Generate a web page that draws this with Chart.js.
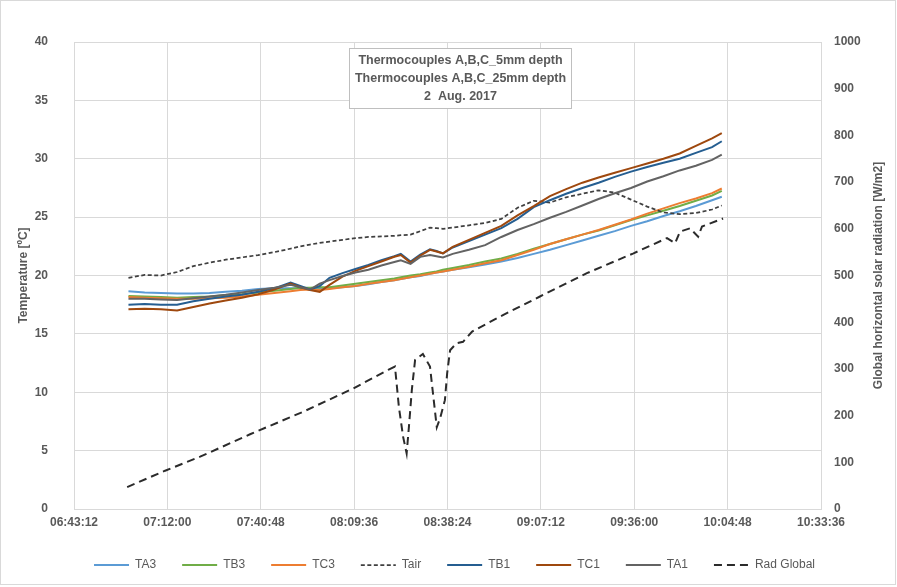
<!DOCTYPE html>
<html>
<head>
<meta charset="utf-8">
<script src="https://cdn.jsdelivr.net/npm/chart.js@4/dist/chart.umd.min.js"></script>
<style>
html,body{margin:0;padding:0;background:#fff;}
canvas{display:block;}
</style>
</head>
<body>
<canvas id="c" width="897" height="587"></canvas>
<script>
// ---- data ----
const xTickLabels = ["06:43:12","07:12:00","07:40:48","08:09:36","08:38:24","09:07:12","09:36:00","10:04:48","10:33:36"];
const titleLines = ["Thermocouples A,B,C_5mm depth","Thermocouples A,B,C_25mm depth","2  Aug. 2017"];
const leftTitle = "Temperature [ºC]";
const rightTitle = "Global horizontal solar radiation [W/m2]";

// minutes after midnight
const tempTimes = [420,425,430,435,440,445,450,455,460,465,470,473,476,479,482,486,490,494,498,502,504,507,510,513,515,517,520,525,530,535,540,545,550,555,560,565,570,575,580,585,590,595,600,603];
const TA3 = [18.65,18.55,18.5,18.45,18.45,18.5,18.6,18.7,18.85,18.9,18.9,18.9,18.85,18.85,18.9,19.0,19.1,19.25,19.45,19.6,19.7,19.85,19.95,20.15,20.25,20.35,20.5,20.7,20.95,21.2,21.5,21.85,22.2,22.6,23.0,23.4,23.8,24.25,24.65,25.1,25.5,25.95,26.45,26.75];
const TB3 = [18.25,18.2,18.15,18.1,18.15,18.2,18.3,18.4,18.55,18.7,18.85,18.95,18.95,19.0,19.0,19.15,19.3,19.45,19.6,19.75,19.85,20.0,20.1,20.25,20.35,20.5,20.65,20.9,21.2,21.45,21.85,22.3,22.7,23.1,23.5,23.85,24.3,24.75,25.15,25.55,25.95,26.4,26.85,27.25];
const TC3 = [18.15,18.1,18.05,18.0,18.0,18.05,18.1,18.2,18.35,18.5,18.65,18.75,18.8,18.75,18.85,19.0,19.1,19.3,19.45,19.6,19.7,19.85,20.0,20.15,20.25,20.35,20.5,20.75,21.05,21.3,21.75,22.2,22.7,23.1,23.5,23.9,24.35,24.8,25.3,25.75,26.2,26.6,27.05,27.45];
const Tair = [19.8,20.05,20.0,20.3,20.8,21.1,21.35,21.55,21.75,22.0,22.3,22.5,22.65,22.8,22.9,23.05,23.2,23.3,23.35,23.4,23.45,23.5,23.8,24.1,24.05,24.0,24.1,24.3,24.5,24.85,25.8,26.4,26.25,26.7,27.0,27.3,27.1,26.5,25.9,25.4,25.25,25.35,25.65,26.0];
const TB1 = [17.5,17.55,17.5,17.5,17.8,18.0,18.2,18.35,18.6,18.9,19.4,19.1,18.8,19.1,19.8,20.2,20.55,20.9,21.3,21.65,21.85,21.2,21.8,22.25,22.1,21.9,22.4,22.95,23.5,24.05,24.85,25.85,26.45,27.0,27.5,27.95,28.45,28.9,29.3,29.65,30.0,30.5,31.0,31.5];
const TC1 = [17.1,17.15,17.1,17.0,17.3,17.6,17.85,18.1,18.4,18.8,19.3,19.0,18.75,18.6,19.2,19.9,20.4,20.8,21.2,21.6,21.75,21.1,21.7,22.2,22.05,21.9,22.45,23.05,23.65,24.25,25.15,25.95,26.8,27.4,27.95,28.4,28.8,29.2,29.6,30.0,30.45,31.1,31.75,32.2];
const TA1 = [18.0,18.0,17.95,17.9,18.05,18.2,18.35,18.55,18.75,18.95,19.2,19.0,18.8,19.3,19.6,19.95,20.25,20.5,20.85,21.15,21.3,21.0,21.6,21.75,21.65,21.55,21.85,22.2,22.6,23.3,23.9,24.4,24.95,25.45,26.0,26.55,27.05,27.5,28.05,28.5,29.0,29.4,29.9,30.35];

const radTimes = [419.6,431.3,442.1,457.5,473.8,489.3,500.1,502.2,503.4,504.7,505.8,506.5,507.4,508.4,510.8,513.0,513.8,515.1,516.1,517.6,518.3,519.2,521.2,523.2,526.0,534.6,546.9,561.4,575.6,586.1,588.6,590.1,593.2,595.7,596.9,603.4];
const radGlobal = [47,82,112,160,208,258,298,305,219,155,119,176,255,319,332,305,255,175,194,233,291,340,355,358,380,412,455,505,547,580,569,594,601,583,605,622];

// ---- helpers ----
const toMin = s => { const p = s.split(':').map(Number); return p[0]*60 + p[1] + (p[2]||0)/60; };
const fmt = v => { const t = Math.round(v*60); const h = Math.floor(t/3600), m = Math.floor((t%3600)/60), s = t%60; return [h,m,s].map(n=>String(n).padStart(2,'0')).join(':'); };
const pts = (xs, ys) => xs.map((x,i)=>({x, y: ys[i]}));
const GRID = '#d9d9d9', TXT = '#595959';
const FONT = "'Liberation Sans', Arial, sans-serif";
const tickFont = {family: FONT, size: 12, weight: 'bold'};

const mk = (label, data, color, extra) => Object.assign({
  label, data: pts(tempTimes, data), borderColor: color, backgroundColor: color,
  borderWidth: 2, pointRadius: 0, tension: 0, fill: false, yAxisID: 'y'
}, extra || {});

const datasets = [
  mk('TA3', TA3, '#5B9BD5'),
  mk('TB3', TB3, '#70AD47'),
  mk('TC3', TC3, '#ED7D31'),
  mk('Tair', Tair, '#404040', {borderWidth: 1.75, borderDash: [4, 2.5]}),
  mk('TB1', TB1, '#255E91'),
  mk('TC1', TC1, '#9E480E'),
  mk('TA1', TA1, '#636363'),
  {label: 'Rad Global', data: pts(radTimes, radGlobal), borderColor: '#2b2b2b', backgroundColor: '#2b2b2b',
   borderWidth: 2, borderDash: [8, 5], pointRadius: 0, tension: 0, fill: false, yAxisID: 'y1'}
].map((d,i)=>Object.assign(d, {order: -i}));

const decor = {
  id: 'decor',
  beforeDraw(c) {
    const ctx = c.ctx; ctx.save(); ctx.fillStyle = '#fff'; ctx.fillRect(0,0,c.width,c.height); ctx.restore();
  },
  afterDatasetsDraw(c) {
    const ctx = c.ctx, a = c.chartArea;
    ctx.save();
    const bw = 222, bh = 60;
    const bx = Math.round(a.left + (460 - 74) / 747 * (a.right - a.left) - bw/2), by = a.top + 6;
    ctx.fillStyle = '#fff'; ctx.fillRect(bx, by, bw, bh);
    ctx.strokeStyle = '#bfbfbf'; ctx.lineWidth = 1; ctx.strokeRect(bx + 0.5, by + 0.5, bw, bh);
    ctx.fillStyle = TXT; ctx.font = 'bold 12.5px ' + FONT; ctx.textAlign = 'center'; ctx.textBaseline = 'middle';
    titleLines.forEach((t,i) => ctx.fillText(t, bx + bw/2 + 0.5, by + 13 + i*18));
    ctx.translate(879, (a.top + a.bottom)/2); ctx.rotate(-Math.PI/2);
    ctx.font = 'bold 12px ' + FONT; ctx.fillText(rightTitle, 0, 0);
    ctx.restore();
  },
  afterDraw(c) {
    const ctx = c.ctx; ctx.save(); ctx.strokeStyle = '#d9d9d9'; ctx.lineWidth = 1;
    ctx.strokeRect(0.5, 0.5, c.width - 2, c.height - 3); ctx.restore();
  }
};

new Chart(document.getElementById('c'), {
  type: 'line',
  data: {datasets},
  plugins: [decor],
  options: {
    responsive: false, animation: false, devicePixelRatio: 1,
    layout: {padding: {left: 12, right: 0, top: 42, bottom: 6}},
    plugins: {
      legend: {position: 'bottom', labels: {usePointStyle: true, pointStyle: 'line', pointStyleWidth: 35, boxWidth: 35,
        padding: 26, color: TXT, font: {family: FONT, size: 12},
        generateLabels: chart => Chart.defaults.plugins.legend.labels.generateLabels(chart).map(it => {
          const ds = chart.data.datasets[it.datasetIndex];
          it.lineDash = ds.borderDash || []; it.lineWidth = ds.borderWidth; it.strokeStyle = ds.borderColor;
          return it;
        }),
        sort: (p,q) => p.datasetIndex - q.datasetIndex}},
      tooltip: {enabled: false}
    },
    scales: {
      x: {type: 'linear', min: toMin(xTickLabels[0]), max: toMin(xTickLabels[xTickLabels.length-1]),
        afterBuildTicks: s => { s.ticks = xTickLabels.map(l => ({value: toMin(l)})); },
        ticks: {callback: v => fmt(v), color: TXT, font: tickFont, maxRotation: 0, autoSkip: false, padding: 6},
        grid: {color: GRID, drawTicks: false}, border: {color: GRID},
        afterFit: s => { s.height = 24; }},
      y: {position: 'left', min: 0, max: 40,
        ticks: {stepSize: 5, color: TXT, font: tickFont, padding: 26, callback: v => String(v)},
        grid: {color: GRID, drawTicks: false}, border: {display: false},
        title: {display: true, text: leftTitle, color: TXT, font: tickFont, padding: {top: 4, bottom: 0}},
        afterFit: s => { s.width = 62; }},
      y1: {position: 'right', min: 0, max: 1000,
        ticks: {stepSize: 100, color: TXT, font: tickFont, padding: 13, callback: v => String(v)},
        grid: {display: false, drawTicks: false}, border: {display: false},
        afterFit: s => { s.width = 76; }}
    }
  }
});
</script>
</body>
</html>
